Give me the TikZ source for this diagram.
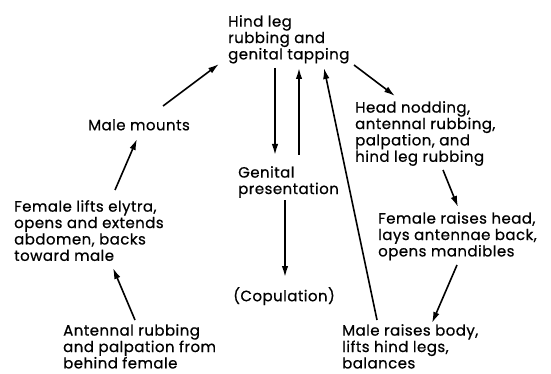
\documentclass[tikz,border=0pt]{standalone}
\usepackage{fontspec}
\setmainfont{Poppins}[UprightFeatures={FakeBold=0.6}, LetterSpace=3]
\usetikzlibrary{arrows.meta, positioning}

\begin{document}
\begin{tikzpicture}[x=1pt,y=-1pt]
\useasboundingbox (0,0) rectangle (551,374);
\begin{scope}[every node/.style={font=\fontsize{15}{16.4}\selectfont, inner sep=0pt, align=left, anchor=north west},
  link/.style={-{Latex[length=11pt,width=6.5pt]}, line width=1.6pt}]

\node (hind)    at (228,15)  {Hind leg\\rubbing and\\genital tapping};
\node (mount)   at (88,119)  {Male mounts};
\node (genital) at (238,166) {Genital\\presentation};
\node (copul)   at (233,287) {(Copulation)};
\node (lifts)   at (14,200)  {Female lifts elytra,\\opens and extends\\abdomen, backs\\toward male};
\node (antrub)  at (63,324)  {Antennal rubbing\\and palpation from\\behind female};
\node (head)    at (355,101) {Head nodding,\\antennal rubbing,\\palpation, and\\hind leg rubbing};
\node (raises)  at (378,212) {Female raises head,\\lays antennae back,\\opens mandibles};
\node (body)    at (342,324) {Male raises body,\\lifts hind legs,\\balances};

\draw [link] ([shift={(75,-13)}]mount.north west)   -- ([shift={(-9,49)}]hind.north west);
\draw [link] ([shift={(101,-10)}]lifts.north west)  -- ([shift={(49,20)}]mount.north west);
\draw [link] ([shift={(72,-4)}]antrub.north west)   -- ([shift={(99,68)}]lifts.north west);
\draw [link] ([shift={(47,53)}]hind.north west)     -- ([shift={(37,-11)}]genital.north west);
\draw [link] ([shift={(61,-11)}]genital.north west) -- ([shift={(71,53)}]hind.north west);
\draw [link] ([shift={(47,34)}]genital.north west)  -- ([shift={(52,-10)}]copul.north west);
\draw [link] ([shift={(35,-4)}]body.north west)     -- ([shift={(96,53)}]hind.north west);
\draw [link] ([shift={(126,50)}]hind.north west)    -- ([shift={(40,-5)}]head.north west);
\draw [link] ([shift={(88,69)}]head.north west)     -- ([shift={(80,-5)}]raises.north west);
\draw [link] ([shift={(79,53)}]raises.north west)   -- ([shift={(90,-1)}]body.north west);

\end{scope}
\end{tikzpicture}
\end{document}
